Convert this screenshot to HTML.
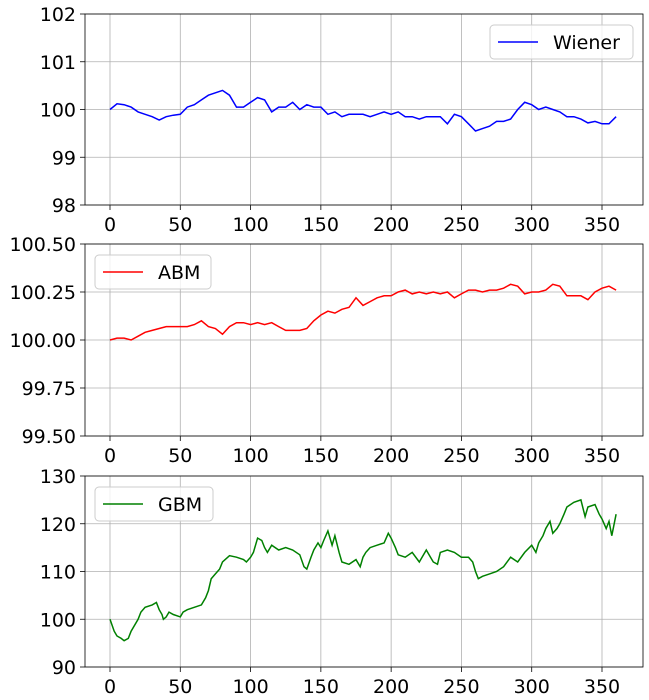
<!DOCTYPE html>
<html><head><meta charset="utf-8"><style>
body{margin:0;background:#fff}
svg{display:block;font-family:"DejaVu Sans","Liberation Sans",sans-serif}
</style></head><body>
<svg id="c" width="649" height="700"></svg>
<script>
const wx=[0,5,10,15,20,25,30,35,40,45,50,55,60,65,70,75,80,85,90,95,100,105,110,115,120,125,130,135,140,145,150,155,160,165,170,175,180,185,190,195,200,205,210,215,220,225,230,235,240,245,250,255,260,265,270,275,280,285,290,295,300,305,310,315,320,325,330,335,340,345,350,355,360];
const wienerVals=[100.0,100.12,100.1,100.05,99.95,99.9,99.85,99.78,99.85,99.88,99.9,100.05,100.1,100.2,100.3,100.35,100.4,100.3,100.05,100.05,100.15,100.25,100.2,99.95,100.05,100.05,100.15,100.0,100.1,100.05,100.05,99.9,99.95,99.85,99.9,99.9,99.9,99.85,99.9,99.95,99.9,99.95,99.85,99.85,99.8,99.85,99.85,99.85,99.7,99.9,99.85,99.7,99.55,99.6,99.65,99.75,99.75,99.8,100.0,100.15,100.1,100.0,100.05,100.0,99.95,99.85,99.85,99.8,99.72,99.75,99.7,99.7,99.85];
const abmVals=[100.0,100.01,100.01,100.0,100.02,100.04,100.05,100.06,100.07,100.07,100.07,100.07,100.08,100.1,100.07,100.06,100.03,100.07,100.09,100.09,100.08,100.09,100.08,100.09,100.07,100.05,100.05,100.05,100.06,100.1,100.13,100.15,100.14,100.16,100.17,100.22,100.18,100.2,100.22,100.23,100.23,100.25,100.26,100.24,100.25,100.24,100.25,100.24,100.25,100.22,100.24,100.26,100.26,100.25,100.26,100.26,100.27,100.29,100.28,100.24,100.25,100.25,100.26,100.29,100.28,100.23,100.23,100.23,100.21,100.25,100.27,100.28,100.26];
const gx=[0,3,5,8,10,13,15,20,22,25,30,33,35,37,38,40,42,45,50,52,55,60,65,68,70,72,75,78,80,85,90,95,97,100,102,105,108,110,112,115,120,125,130,135,138,140,143,145,148,150,152,155,158,160,163,165,170,175,178,180,182,185,190,195,198,200,203,205,210,215,220,225,228,230,233,235,240,245,250,255,258,260,262,265,270,275,280,285,290,295,300,303,305,308,310,313,315,318,320,323,325,330,335,338,340,345,348,350,353,355,357,360];
const gbmVals=[100,97.5,96.5,96,95.5,96,97.5,100,101.5,102.5,103,103.5,102,101,100,100.5,101.5,101,100.5,101.5,102,102.5,103,104.5,106,108.5,109.5,110.5,112,113.3,113,112.5,112,113,114,117,116.5,115,114,115.5,114.5,115,114.5,113.5,111,110.5,113,114.5,116,115,116.5,118.5,115.5,117.5,114,112,111.5,112.5,111,113,114,115,115.5,116,118,117,115,113.5,113,114,112,114.5,113,112,111.5,114,114.5,114,113,113,112,110,108.5,109,109.5,110,111,113,112,114,115.5,114,116,117.5,119,120.5,118,119,120,122,123.5,124.5,125,121.5,123.5,124,122,121,119,120.5,117.5,122];
const xTicks=[0,50,100,150,200,250,300,350];
const ticks1=[98,99,100,101,102], ticks2=[99.5,99.75,100,100.25,100.5], ticks3=[90,100,110,120,130];
const tl1=["98","99","100","101","102"], tl2=["99.50","99.75","100.00","100.25","100.50"], tl3=["90","100","110","120","130"];
const NS="http://www.w3.org/2000/svg", svg=document.getElementById('c');
const L=85,R=643,FS=19;
function sx(v){return 110+(v-0)*(602-110)/350;}
function mk(t,a,p){const e=document.createElementNS(NS,t);for(const k in a)e.setAttribute(k,a[k]);(p||svg).appendChild(e);return e;}
function panel(name,top,bot,ymin,ymax,ticks,labels,xs,vals,color,legend,lx,lw){
  const g=mk('g',{});
  
  
  const sy=v=>bot-(v-ymin)*(bot-top)/(ymax-ymin);
  xTicks.forEach(t=>{const X=sx(t);
    mk('line',{x1:X,x2:X,y1:top,y2:bot,stroke:'#b0b0b0','stroke-width':0.8},g);
    mk('line',{x1:X,x2:X,y1:bot,y2:bot+5,stroke:'#000','stroke-width':0.8},g);
    const tx=mk('text',{x:X,y:bot+26,'text-anchor':'middle','font-size':FS},g);tx.textContent=t;
    
    });
  ticks.forEach((t,i)=>{const Y=sy(t);
    mk('line',{x1:L,x2:R,y1:Y,y2:Y,stroke:'#b0b0b0','stroke-width':0.8},g);
    mk('line',{x1:L-5,x2:L,y1:Y,y2:Y,stroke:'#000','stroke-width':0.8},g);
    const tx=mk('text',{x:L-9,y:Y+7,'text-anchor':'end','font-size':FS},g);tx.textContent=labels[i];
    
    });
  const d=xs.map((x,i)=>(i?'L':'M')+sx(x).toFixed(1)+','+sy(vals[i]).toFixed(1)).join('');
  const p=mk('path',{d:d,fill:'none',stroke:color,'stroke-width':1.5},g);
  
  
  mk('rect',{x:L,y:top,width:R-L,height:bot-top,fill:'none',stroke:'#000','stroke-width':0.8},g);
  const lg=mk('g',{},g);
  
  
  mk('rect',{x:lx,y:top+11,width:lw,height:34,rx:4,fill:'#fff','fill-opacity':0.8,stroke:'#ccc'},lg);
  mk('line',{x1:lx+8,x2:lx+48,y1:top+28,y2:top+28,stroke:color,'stroke-width':1.5},lg);
  const lt=mk('text',{x:lx+63,y:top+35,'font-size':FS},lg);lt.textContent=legend;
}
panel('wiener',14,205,98,102,ticks1,tl1,wx,wienerVals,'#0000ff','Wiener',490,143);
panel('abm',244,436,99.5,100.5,ticks2,tl2,wx,abmVals,'#ff0000','ABM',95,116);
panel('gbm',476,667,90,130,ticks3,tl3,gx,gbmVals,'#008000','GBM',95,118);
</script>
</body></html>
